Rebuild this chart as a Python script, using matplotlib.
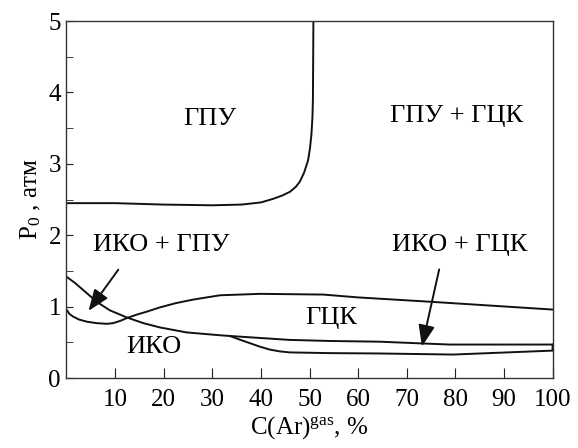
import matplotlib.pyplot as plt
from matplotlib.ticker import MultipleLocator, FixedLocator

plt.rcParams['font.family'] = ['Liberation Serif', 'DejaVu Serif']
plt.rcParams['mathtext.fontset'] = 'custom'
plt.rcParams['mathtext.rm'] = 'Liberation Serif'
plt.rcParams['mathtext.it'] = 'Liberation Serif:italic'

# граница ГПУ
gpu_x = [0, 10, 20, 30, 36, 40, 42.5, 44.5, 46, 47.2, 48, 48.9, 49.7, 50.1, 50.4, 50.6, 50.7, 50.8]
gpu_y = [2.45, 2.45, 2.43, 2.42, 2.43, 2.46, 2.51, 2.56, 2.61, 2.68, 2.75, 2.88, 3.05, 3.22, 3.42, 3.65, 3.9, 5.0]

# верхняя граница ГЦК
gck_x = [0, 0.6, 1.4, 2.6, 4.2, 6.2, 8.3, 9.6, 11, 12.4, 14.5, 16.5, 19.2, 22.5, 26.1, 31.6, 39.8, 52.8, 60, 74.7, 100]
gck_y = [0.96, 0.9, 0.86, 0.82, 0.79, 0.77, 0.76, 0.77, 0.8, 0.84, 0.89, 0.93, 0.99, 1.05, 1.10, 1.16, 1.18, 1.17, 1.13, 1.07, 0.96]

# граница ИКО
iko_x = [0, 1.8, 3.5, 6.2, 8.9, 12.4, 15.8, 19.2, 24.7, 31.6, 33.6, 45.9, 54.2, 64.4, 78.8, 100]
iko_y = [1.42, 1.33, 1.23, 1.07, 0.95, 0.85, 0.77, 0.71, 0.64, 0.60, 0.59, 0.535, 0.52, 0.51, 0.47, 0.47]

# нижняя ветвь ИКО + ГЦК
low_x = [33.6, 35.6, 37.7, 39.8, 41.8, 43.8, 45.9, 54.2, 64.4, 79.5, 100, 100]
low_y = [0.59, 0.54, 0.49, 0.44, 0.40, 0.375, 0.36, 0.35, 0.345, 0.33, 0.385, 0.47]

fig = plt.figure(figsize=(5.78, 4.48), dpi=100)
ax = fig.add_axes([0.115, 0.156, 0.841, 0.797])

for xs, ys in [(gpu_x, gpu_y), (gck_x, gck_y), (iko_x, iko_y), (low_x, low_y)]:
    ax.plot(xs, ys, color='#111111', lw=1.4, solid_joinstyle='round')

ax.set_xlim(0, 100)
ax.set_ylim(0, 5)
ax.xaxis.set_major_locator(FixedLocator(range(10, 101, 10)))
ax.yaxis.set_major_locator(MultipleLocator(1))
ax.yaxis.set_minor_locator(MultipleLocator(0.5))
ax.tick_params(which='both', direction='in', labelsize=18, color='#222222')
ax.tick_params(axis='x', length=7, pad=8)
ax.tick_params(axis='y', which='both', length=5, pad=4)
for s in ax.spines.values():
    s.set_linewidth(1.0)
    s.set_color('#333333')

ax.set_xlabel('C(Ar)$^{\\mathrm{gas}}$, %', fontsize=18, labelpad=3)
ax.set_ylabel('P$_{\\mathrm{0}}$ , атм', fontsize=18, labelpad=4)

fs = 19
ax.text(29.5, 3.63, 'ГПУ', fontsize=fs, ha='center', va='center')
ax.text(80.2, 3.67, 'ГПУ + ГЦК', fontsize=fs, ha='center', va='center')
ax.text(54.5, 0.84, 'ГЦК', fontsize=fs, ha='center', va='center')
ax.text(18, 0.44, 'ИКО', fontsize=fs, ha='center', va='center')
ax.text(19.5, 1.86, 'ИКО + ГПУ', fontsize=fs, ha='center', va='center')
ax.text(80.9, 1.86, 'ИКО + ГЦК', fontsize=fs, ha='center', va='center')

arrow = dict(arrowstyle='-|>,head_length=1.3,head_width=0.5', color='#111111', lw=1.4)
ax.annotate('', xy=(4.2, 0.91), xytext=(11, 1.55), arrowprops=arrow)
ax.annotate('', xy=(73, 0.405), xytext=(76.8, 1.56), arrowprops=arrow)

fig.savefig('out.png', dpi=100)
